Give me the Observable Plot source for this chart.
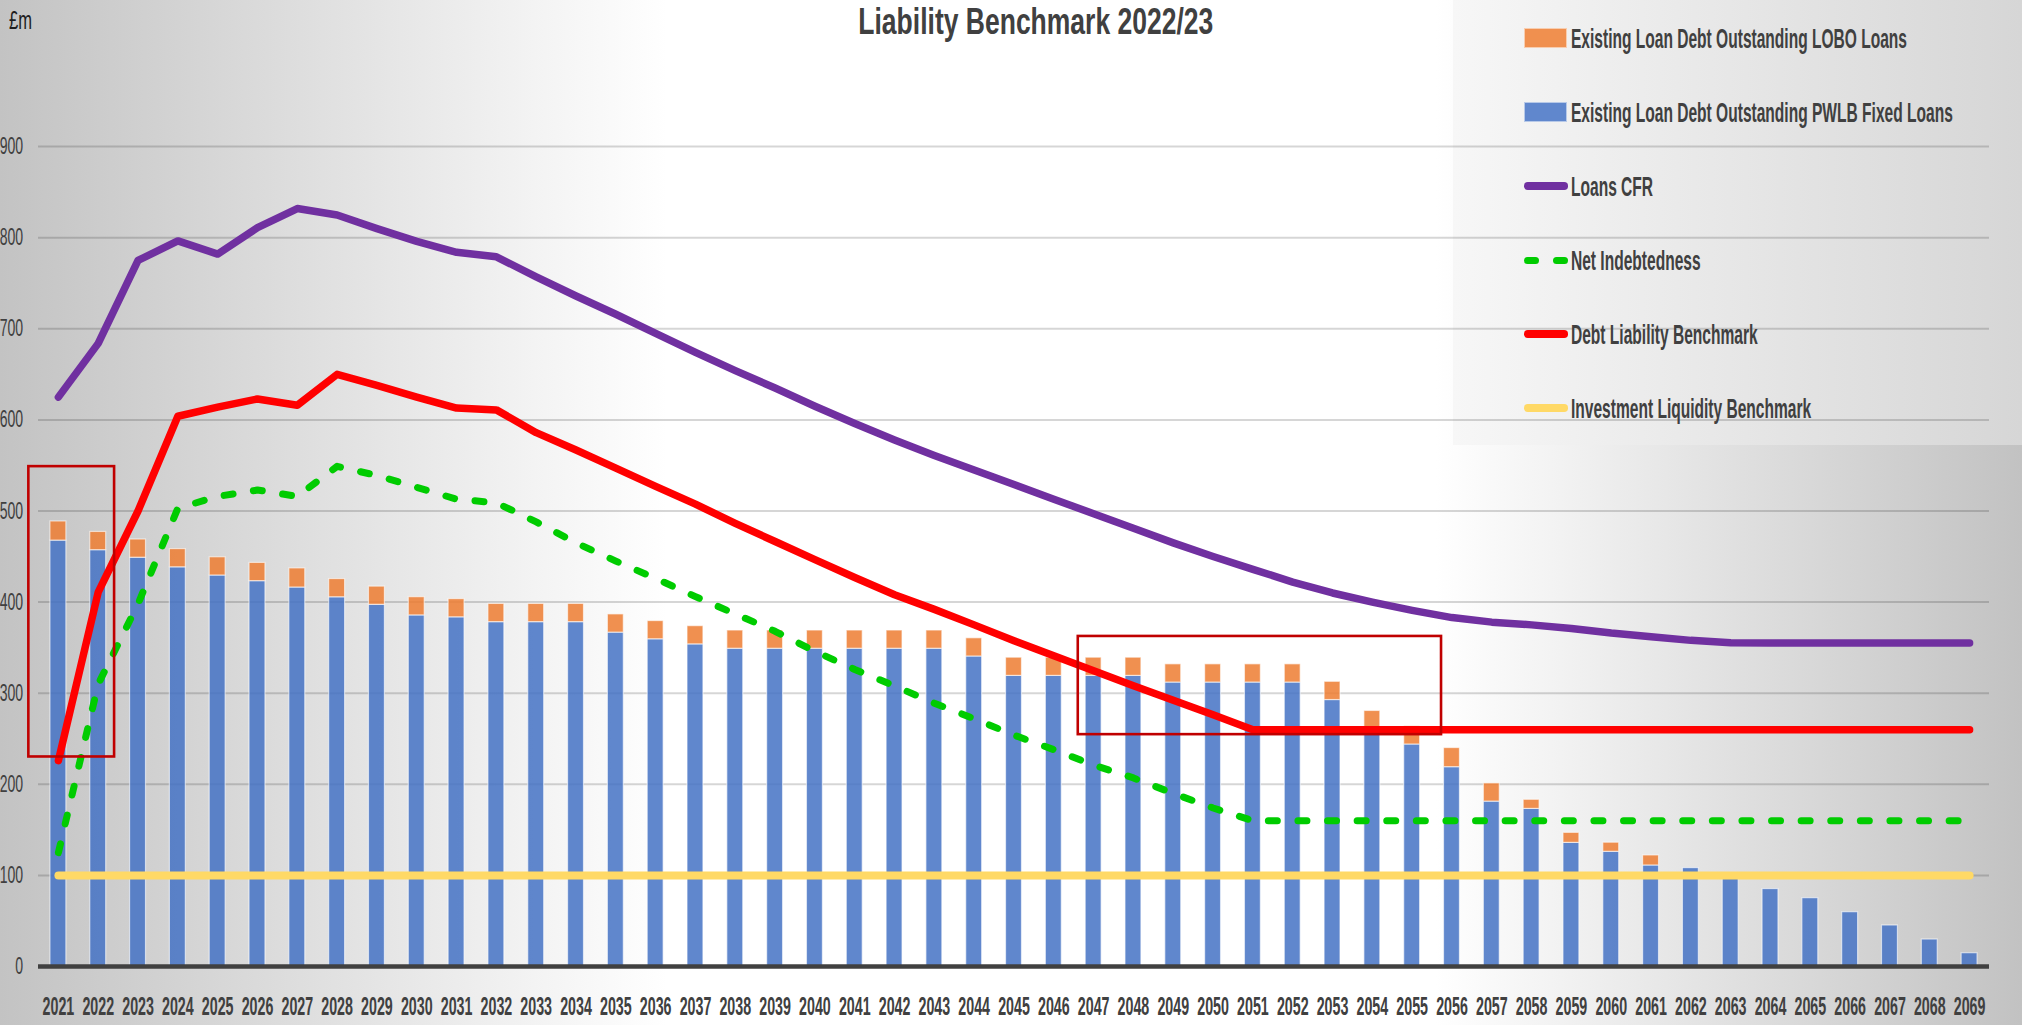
<!DOCTYPE html>
<html><head><meta charset="utf-8">
<script src="https://cdn.jsdelivr.net/npm/d3@7"></script>
<script src="https://cdn.jsdelivr.net/npm/@observablehq/plot@0.6"></script>
<style>
html,body{margin:0;padding:0;background:#fff;}
#wrap{position:relative;width:2022px;height:1025px;overflow:hidden;
 background:linear-gradient(to right,#c3c3c3 0%,#ffffff 33%,#ffffff 71%,#c2c2c2 100%);
 font-family:"Liberation Sans Narrow","Liberation Sans",Arial,sans-serif;}
#legbox{position:absolute;left:1453px;top:0;width:569px;height:445px;background:linear-gradient(to right,#f7f7f7,#d6d6d6);z-index:0;}
#plot{position:absolute;left:0;top:0;z-index:1;}
.lbl{position:absolute;white-space:nowrap;line-height:1;z-index:2;}
.sw{position:absolute;z-index:2;box-sizing:border-box;}
</style></head><body>
<div id="wrap">
 <div id="legbox"></div>
 <div id="plot"></div>
</div>
<script>
// ---------- data ----------
const years = [2021,2022,2023,2024,2025,2026,2027,2028,2029,2030,2031,2032,2033,2034,2035,2036,2037,2038,2039,2040,
  2041,2042,2043,2044,2045,2046,2047,2048,2049,2050,2051,2052,2053,2054,2055,2056,2057,2058,2059,2060,
  2061,2062,2063,2064,2065,2066,2067,2068,2069];
const pwlbFixedLoans = [467.5,457,448.7,438.2,429.2,423,416,405.3,397,385.4,383.3,378,378,378,366.5,359.2,353.6,348.8,348.8,348.8,
  348.8,348.8,348.8,340.3,319,319,319,319,311.7,311.7,311.7,311.7,292.5,260.5,243.7,218.8,181,173,135.7,125.9,
  110.9,108,97,85,75,59.6,45,29.6,14.6];
const loboLoans = [21,20,20,20,20,20,21,20,20,20,20,20,20,20,20,20,20,20,20,20,
  20,20,20,20,20,20,20,20,20,20,20,20,20,20,20,21,20,10,11,10,
  11,0,0,0,0,0,0,0,0];
const loansCFR = [625,684,775,796.5,782,811,832,825,810,796,784,779,757,736,716,695,674,654,635,615,
  596,578,561,545,529,513,497,481,465,450,436,422,410,400,391,383,378,375,371,366,
  362,358,355.5,355,355,355,355,355,355];
const netIndebtedness = [125,310,398,503,516,523,516,549,539,526,513,509,488,465,445,426,406,387,368,346,
  326,308,289,272,254,238,221,207,190,174,160,160,160,160,160,160,160,160,160,160,
  160,160,160,160,160,160,160,160,160];
const debtLiabilityBenchmark = [226,411,500,604,614,623,616,650,638,625,613,611,586,567,547,527,507.5,486.5,466.5,446.6,
  427,408,392,375,357.6,341,324.6,308.3,292.3,276.3,260,260,260,260,260,260,260,260,260,260,
  260,260,260,260,260,260,260,260,260];
const investmentLiquidityBenchmark = [100,100,100,100,100,100,100,100,100,100,100,100,100,100,100,100,100,100,100,100,
  100,100,100,100,100,100,100,100,100,100,100,100,100,100,100,100,100,100,100,100,
  100,100,100,100,100,100,100,100,100];
const yTicks = [0,100,200,300,400,500,600,700,800,900];
const highlightEarly = [{x1: 2021, x2: 2022, y1: 230, y2: 548.7}];
const highlightLate = [{x1: 2047, x2: 2055, y1: 254.5, y2: 362.3}];

const seriesNames = ["Existing Loan Debt Outstanding PWLB Fixed Loans", "Existing Loan Debt Outstanding LOBO Loans"];

// ---------- tables ----------
const barRows = [
  ...years.map((yr, i) => ({year: yr, series: seriesNames[0], value: pwlbFixedLoans[i]})),
  ...years.map((yr, i) => ({year: yr, series: seriesNames[1], value: loboLoans[i]}))
];
const rows = years.map((yr, i) => ({
  year: yr, cfr: loansCFR[i], net: netIndebtedness[i], debt: debtLiabilityBenchmark[i], liq: investmentLiquidityBenchmark[i]
}));

const FONT = '"Liberation Sans Narrow","Liberation Sans",Arial,sans-serif';
const lineStyle = {strokeLinecap: "round", strokeLinejoin: "round"};
const boxStyle = {fill: "none", stroke: "#C00000", strokeWidth: 2.6};

const chart = Plot.plot({
  width: 2022, height: 1025,
  marginLeft: 38, marginRight: 33, marginTop: 55, marginBottom: 59,
  style: {background: "transparent", fontFamily: FONT, color: "#404040", overflow: "visible"},
  x: {type: "band", domain: years, paddingInner: 0.6, paddingOuter: 0.3, round: false, axis: null},
  y: {domain: [0, 1000], axis: null},
  color: {domain: seriesNames, range: ["#4472C4", "#ED7D31"]},
  marks: [
    Plot.gridY(yTicks.filter(d => d > 0), {stroke: "#000", strokeOpacity: 0.16, strokeWidth: 2}),
    Plot.axisY(yTicks, {tickSize: 0, tickPadding: 15.3, fontSize: 23.5, tickFormat: d => String(d), fill: "#404040"}),
    Plot.axisX(years, {tickSize: 0, tickPadding: 31, fontSize: 25, fontWeight: "bold", tickFormat: d => String(d), fill: "#404040"}),
    Plot.barY(barRows, {x: "year", y: "value", fill: "series", fillOpacity: 0.85, stroke: "#ffffff", strokeOpacity: 0.6, strokeWidth: 1.2}),
    Plot.ruleY([0], {stroke: "#404040", strokeWidth: 4.5}),
    Plot.lineY(rows, {x: "year", y: "cfr", stroke: "#7030A0", strokeWidth: 7.5, ...lineStyle}),
    Plot.lineY(rows, {x: "year", y: "net", stroke: "#00CC00", strokeWidth: 7, strokeDasharray: "9,20.6", ...lineStyle}),
    Plot.lineY(rows, {x: "year", y: "debt", stroke: "#FF0000", strokeWidth: 7.5, ...lineStyle}),
    Plot.lineY(rows, {x: "year", y: "liq", stroke: "#FFD966", strokeWidth: 8, ...lineStyle}),
    Plot.rect(highlightEarly, {x1: "x1", x2: "x2", y1: "y1", y2: "y2", insetLeft: -21.6, insetRight: -8.4, ...boxStyle}),
    Plot.rect(highlightLate, {x1: "x1", x2: "x2", y1: "y1", y2: "y2", insetLeft: -7.4, insetRight: -21.4, ...boxStyle})
  ]
});
document.getElementById("plot").appendChild(chart);

// condense axis tick labels to the narrow lettering of the original
function squeeze(texts, sample, targetW) {
  if (!texts.length) return;
  const ref = texts.find(t => t.textContent === sample) || texts[0];
  const s = targetW / ref.getComputedTextLength();
  texts.forEach(t => {
    const tr = t.getAttribute("transform") || "";
    t.setAttribute("transform", (tr + ` scale(${s},1)`).trim());
    const x = t.getAttribute("x");
    if (x != null && x !== "" && !isNaN(parseFloat(x))) t.setAttribute("x", parseFloat(x) / s);
  });
}
const allTexts = [...chart.querySelectorAll("text")];
squeeze(allTexts.filter(t => /^\d{4}$/.test(t.textContent)), "2069", 31.7);
squeeze(allTexts.filter(t => /^\d{1,3}$/.test(t.textContent)), "900", 23.5);

// ---------- title, unit and legend (HTML overlay) ----------
const wrap = document.getElementById("wrap");
function label({text, x, anchor = "left", baseline, size, weight = "normal", color = "#404040", width, scale}) {
  const d = document.createElement("div");
  d.className = "lbl";
  d.style.fontSize = size + "px";
  d.style.fontWeight = weight;
  d.style.color = color;
  const t = document.createElement("span");
  t.textContent = text;
  const m = document.createElement("span");
  m.style.cssText = "display:inline-block;width:0;height:0;vertical-align:baseline";
  d.appendChild(t); d.appendChild(m);
  wrap.appendChild(d);
  const r = d.getBoundingClientRect();
  const w = t.getBoundingClientRect().width;
  const off = m.getBoundingClientRect().top - r.top;
  const s = scale != null ? scale : (width ? width / w : 1);
  d.style.top = (baseline - off) + "px";
  if (anchor === "middle") {
    d.style.left = (x - w / 2) + "px";
    d.style.transformOrigin = (w / 2) + "px 0";
  } else {
    d.style.left = x + "px";
    d.style.transformOrigin = "0 0";
  }
  d.style.transform = `scaleX(${s})`;
  return {s, w};
}

label({text: "Liability Benchmark 2022/23", x: 1035.8, anchor: "middle", baseline: 34, size: 37, weight: "bold", width: 355});
label({text: "£m", x: 9, baseline: 29, size: 26, color: "#1e1e1e", width: 23});

const legendItems = [
  {name: seriesNames[1], kind: "rect", color: "#F0904F", y: 38},
  {name: seriesNames[0], kind: "rect", color: "#6087CD", y: 112},
  {name: "Loans CFR", kind: "line", color: "#7030A0", y: 186},
  {name: "Net Indebtedness", kind: "dash", color: "#00CC00", y: 260},
  {name: "Debt Liability Benchmark", kind: "line", color: "#FF0000", y: 334},
  {name: "Investment Liquidity Benchmark", kind: "line", color: "#FFD966", y: 408}
];
let legScale = null;
legendItems.forEach((it, i) => {
  if (it.kind === "rect") {
    const sw = document.createElement("div");
    sw.className = "sw";
    sw.style.cssText += `left:1524px;top:${it.y - 9.7}px;width:43px;height:19.5px;background:${it.color};border:1px solid rgba(255,255,255,0.55);`;
    wrap.appendChild(sw);
  } else if (it.kind === "line") {
    const sw = document.createElement("div");
    sw.className = "sw";
    sw.style.cssText += `left:1524px;top:${it.y - 3.75}px;width:44px;height:7.5px;border-radius:3.75px;background:${it.color};`;
    wrap.appendChild(sw);
  } else {
    [1524, 1553].forEach(x0 => {
      const sw = document.createElement("div");
      sw.className = "sw";
      sw.style.cssText += `left:${x0}px;top:${it.y - 3.5}px;width:15px;height:7px;border-radius:3.5px;background:${it.color};`;
      wrap.appendChild(sw);
    });
  }
  const res = label({text: it.name, x: 1571, baseline: it.y + 10.3, size: 27, weight: "bold", width: i === 0 ? 336 : null, scale: legScale});
  if (i === 0) legScale = res.s;
});
</script>
</body></html>
